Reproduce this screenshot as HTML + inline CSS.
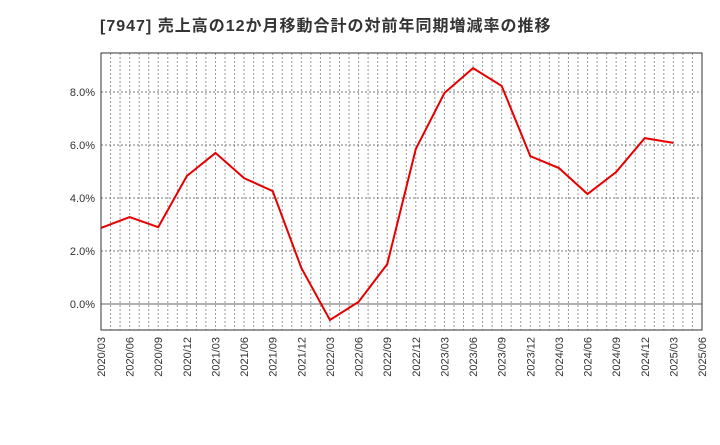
<!DOCTYPE html>
<html><head><meta charset="utf-8"><style>
body{margin:0;background:#fff;}
svg text{font-family:"Liberation Sans","Noto Sans CJK JP",sans-serif;}
</style></head><body>
<svg width="720" height="440">
<text x="100" y="31" font-size="16" letter-spacing="1" font-weight="bold" fill="#333">[7947]  売上高の12か月移動合計の対前年同期増減率の推移</text>
<g id="grid"></g>
<g id="axes"></g>
<polyline id="line" fill="none" stroke="#e60000" stroke-width="2"/>
<rect x="101" y="53" width="601" height="277" fill="none" stroke="#333" stroke-width="1"/>
</svg>
<script>
const categories=["2020/03","2020/06","2020/09","2020/12","2021/03","2021/06","2021/09","2021/12","2022/03","2022/06","2022/09","2022/12","2023/03","2023/06","2023/09","2023/12","2024/03","2024/06","2024/09","2024/12","2025/03","2025/06"];
const values=[2.87,3.28,2.9,4.83,5.7,4.75,4.26,1.36,-0.6,0.08,1.5,5.85,7.96,8.9,8.23,5.58,5.13,4.15,4.98,6.26,6.08];
const yTicks=[0,2,4,6,8];
const yTickLabels=["0.0%","2.0%","4.0%","6.0%","8.0%"];
const L=101,R=702,T=53,B=330,yMin=-0.98,yMax=9.47;
const step=(R-L)/(categories.length-1);
const xs=i=>L+i*step;
const ys=v=>B-(v-yMin)/(yMax-yMin)*(B-T);
const NS="http://www.w3.org/2000/svg";
const grid=document.getElementById('grid'),axes=document.getElementById('axes');
function mk(tag,a,p){const e=document.createElementNS(NS,tag);for(const k in a)e.setAttribute(k,a[k]);p.appendChild(e);return e;}
for(let m=1;m<(categories.length-1)*3;m++){
  const x=L+m*step/3;
  const l=mk('line',{x1:x,x2:x,y1:T,y2:B,stroke:'#999','stroke-dasharray':'2,2','stroke-width':1},grid);
  
  
}
yTicks.forEach((v,i)=>{
  const y=ys(v);
  const l=mk('line',{x1:L,x2:R,y1:y,y2:y,stroke:v===0?'#666':'#777','stroke-dasharray':v===0?'none':'2,2','stroke-width':1},grid);
  
  
  const t=mk('text',{x:L-6,y:y+4,'text-anchor':'end','font-size':11,fill:'#333'},axes);
  t.textContent=yTickLabels[i];
  
  
});
categories.forEach((c,i)=>{
  const x=xs(i);
  const t=mk('text',{x:x+4,y:337,'text-anchor':'end','font-size':11,fill:'#333',transform:`rotate(-90 ${x+4} 337)`},axes);
  t.textContent=c;
  
  
});
document.getElementById('line').setAttribute('points',values.map((v,i)=>xs(i)+','+ys(v)).join(' '));
</script>
</body></html>
